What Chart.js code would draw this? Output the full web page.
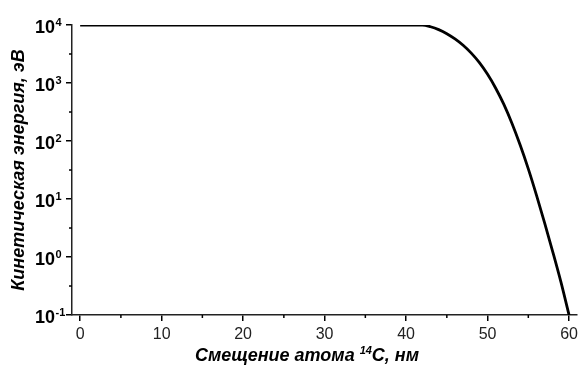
<!DOCTYPE html>
<html>
<head>
<meta charset="utf-8">
<script src="https://cdn.jsdelivr.net/npm/chart.js@4/dist/chart.umd.min.js"></script>
<style>
body { margin: 0; background: #fff; }
</style>
</head>
<body>
<canvas id="chart" width="582" height="367"></canvas>
<script>
// data
let displacement = [0, 10, 20, 30, 40, 41, 42, 43, 44, 45, 46, 47, 48, 49, 50, 51, 52, 53, 54, 55, 56, 57, 58, 59, 60];
let energy = [10000, 10000, 10000, 10000, 10000, 10000, 9990, 9330, 8320, 7080, 5750, 4470, 3270, 2240, 1410, 813, 427, 200, 85.1, 33.1, 11.7, 3.89, 1.23, 0.372, 0.1];

let xTicks = [0, 10, 20, 30, 40, 50, 60];
let xMinorTicks = [5, 15, 25, 35, 45, 55];
let yTicks = [0.1, 1, 10, 100, 1000, 10000];
let yTickBase = ["10", "10", "10", "10", "10", "10"];
let yTickPower = ["-1", "0", "1", "2", "3", "4"];
let yMinorTicks = [0.316, 3.16, 31.6, 316, 3162];

let fontFamily = "'Liberation Sans', Arial, sans-serif";

// minor ticks, superscript tick labels and x title
let extras = {
    id: "extras",
    afterDraw(chart) {
        let ctx = chart.ctx;
        let x = chart.scales.x;
        let y = chart.scales.y;
        let area = chart.chartArea;
        ctx.save();
        ctx.strokeStyle = "#000";
        ctx.lineWidth = 1.5;
        xMinorTicks.forEach(v => {
            let px = x.getPixelForValue(v);
            ctx.beginPath();
            ctx.moveTo(px, area.bottom);
            ctx.lineTo(px, area.bottom + 3);
            ctx.stroke();
        });
        yMinorTicks.forEach(v => {
            let py = y.getPixelForValue(v);
            ctx.beginPath();
            ctx.moveTo(area.left, py);
            ctx.lineTo(area.left - 3, py);
            ctx.stroke();
        });

        // y labels 10^n, left aligned
        ctx.fillStyle = "#000";
        ctx.textBaseline = "alphabetic";
        ctx.textAlign = "left";
        yTicks.forEach((v, i) => {
            let py = y.getPixelForValue(v);
            ctx.font = "bold 18px " + fontFamily;
            ctx.fillText(yTickBase[i], 35, py + 8);
            let w = ctx.measureText(yTickBase[i]).width;
            ctx.font = "bold 11px " + fontFamily;
            ctx.fillText(yTickPower[i], 35 + w + 0.5, py + 1);
        });

        // x title with superscript
        let parts = [
            ["Смещение атома ", 18, 0],
            ["14", 11, -7],
            ["C, нм", 18, 0]
        ];
        let total = 0;
        parts.forEach(p => {
            ctx.font = "italic bold " + p[1] + "px " + fontFamily;
            total += ctx.measureText(p[0]).width;
        });
        let cx = 307 - total / 2;
        parts.forEach(p => {
            ctx.font = "italic bold " + p[1] + "px " + fontFamily;
            ctx.fillText(p[0], cx, 361 + p[2]);
            cx += ctx.measureText(p[0]).width;
        });
        ctx.restore();
    }
};

let ctx = document.getElementById("chart").getContext("2d");
let chart = new Chart(ctx, {
    type: "line",
    data: {
        datasets: [{
            data: displacement.map((d, i) => ({ x: d, y: energy[i] })),
            borderColor: "#000",
            borderWidth: 2.8,
            pointRadius: 0,
            cubicInterpolationMode: "monotone",
            fill: false
        }]
    },
    options: {
        responsive: false,
        animation: false,
        layout: { padding: { top: 25, right: 3, left: 0, bottom: 0 } },
        plugins: {
            legend: { display: false },
            tooltip: { enabled: false }
        },
        scales: {
            x: {
                type: "linear",
                min: -1,
                max: 61,
                afterBuildTicks: scale => {
                    scale.ticks = xTicks.map(v => ({ value: v }));
                },
                afterFit: scale => { scale.height = 52; },
                ticks: {
                    color: "#222",
                    padding: 4,
                    font: { family: fontFamily, size: 16 },
                    maxRotation: 0
                },
                grid: {
                    drawOnChartArea: false,
                    color: "#000",
                    lineWidth: 1.5,
                    tickLength: 6
                },
                border: { display: true, color: "#222", width: 1.5 }
            },
            y: {
                type: "logarithmic",
                min: 0.1,
                max: 10000,
                afterBuildTicks: scale => {
                    scale.ticks = yTicks.map(v => ({ value: v, major: true }));
                },
                afterFit: scale => { scale.width = 72; },
                ticks: { display: false },
                grid: {
                    drawOnChartArea: false,
                    color: "#000",
                    lineWidth: 1.5,
                    tickLength: 6
                },
                border: { display: true, color: "#222", width: 1.5 },
                title: {
                    display: true,
                    text: "Кинетическая энергия, эВ",
                    color: "#000",
                    font: { family: fontFamily, size: 18, weight: "bold", style: "italic" },
                    padding: { top: 8, bottom: 0 }
                }
            }
        }
    },
    plugins: [extras]
});
</script>
</body>
</html>
